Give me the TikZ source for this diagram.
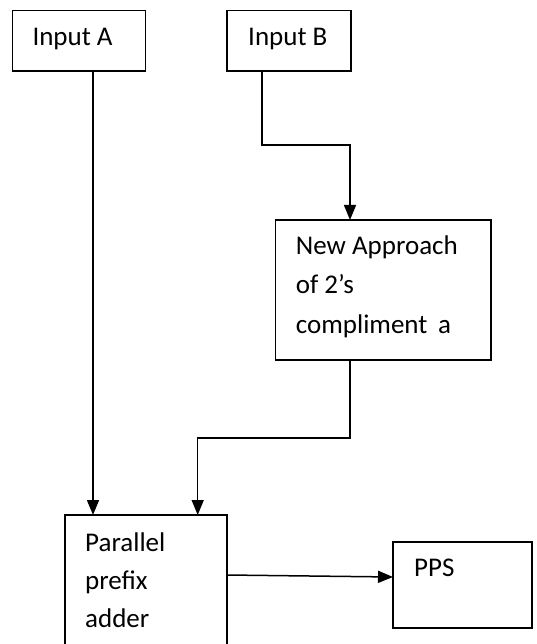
\documentclass[tikz,border=0pt]{standalone}
\usepackage{fontspec}
\setmainfont{Carlito}
\usepackage{tikz}
\usetikzlibrary{arrows.meta}
\tikzstyle{blk}=[draw,rectangle,line width=1.5pt,inner sep=0pt,outer sep=0pt]
\tikzstyle{txt}=[anchor=base west,inner sep=0pt,align=left,font=\fontsize{27}{39.5}\selectfont]
\tikzstyle{arr}=[line width=1.5pt,-{Triangle[length=15pt,width=12pt]}]

\begin{document}
\begin{tikzpicture}[x=1pt,y=-1pt]
        \useasboundingbox (0,0) rectangle (536,644);
        \clip (0,0) rectangle (536,644);
        % boxes
        \node[blk,minimum width=133pt,minimum height=60.3pt] (inA) at (79.2,40.85) {};
        \node[blk,minimum width=124pt,minimum height=60.3pt] (inB) at (289,40.85) {};
        \node[blk,minimum width=215.3pt,minimum height=140pt] (napp) at (383.3,290) {};
        \node[blk,minimum width=162pt,minimum height=155pt] (ppa) at (146,592.5) {};
        \node[blk,minimum width=139pt,minimum height=86.3pt] (pps) at (462.5,584.9) {};
        % texts (base anchor = last line)
        \node[txt] (inAtxt) at (32.3,45.7) {Input A};
        \node[txt] (inBtxt) at (248,45.7) {Input B};
        \node[txt] (napptxt) at (295.7,333) {New Approach\\ of 2’s\\ compliment\, a};
        \node[txt,font=\fontsize{27}{37.7}\selectfont] (ppatxt) at (85,627) {Parallel\\ prefix\\ adder};
        \node[txt] (ppstxt) at (414,576.7) {PPS};
        % connectors
        \draw[arr] ([xshift=13.8pt]inA.south) -- ([xshift=-53pt]ppa.north);
        \draw[arr] ([xshift=-27pt]inB.south) -- ++(0,74) -| ([xshift=-33.3pt]napp.north);
        \draw[arr] ([xshift=-33.3pt]napp.south) -- ++(0,78) -| ([xshift=51.7pt]ppa.north);
        \draw[arr] ([yshift=17.5pt]ppa.east) -- ([yshift=7.9pt]pps.west);
\end{tikzpicture}
\end{document}
